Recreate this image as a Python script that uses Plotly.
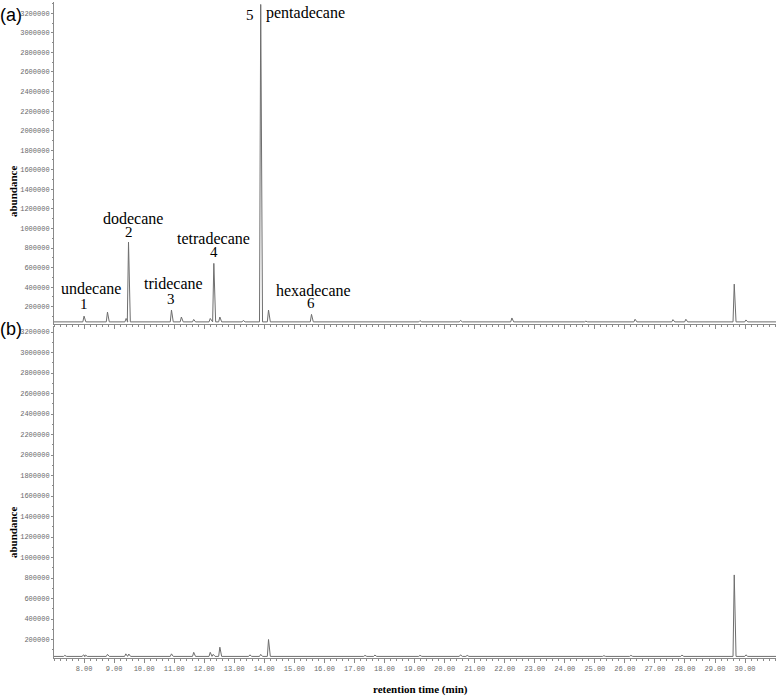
import plotly.graph_objects as go

# ---------------- data ----------------
# panel (a): peak retention times (min) and abundances
a_times = [7.40, 8.00, 8.78, 9.40, 9.48, 10.91, 11.24, 11.65, 12.20, 12.32, 12.52, 13.30,
           13.88, 14.14, 15.57, 16.30, 17.50, 19.18, 20.53, 21.10, 22.24, 24.70, 26.34,
           27.60, 28.03, 29.64, 30.03]
a_values = [52000, 104000, 145000, 80000, 860000, 166000, 95000, 70000, 80000, 643000, 95000, 60000,
            3290000, 166000, 122000, 52000, 50000, 58000, 60000, 52000, 85000, 52000, 72000,
            68000, 72000, 431000, 65000]
a_base = 45000

# panel (b)
b_times = [7.36, 7.98, 8.05, 8.78, 9.39, 9.49, 10.91, 11.65, 12.20, 12.30, 12.52, 13.52,
           13.88, 14.14, 15.60, 17.35, 17.68, 19.18, 20.53, 20.75, 25.30, 26.20, 27.90,
           29.64, 30.03]
b_values = [45000, 50000, 48000, 55000, 60000, 58000, 60000, 75000, 75000, 55000, 125000, 50000,
            55000, 200000, 42000, 45000, 48000, 45000, 50000, 45000, 42000, 45000, 48000,
            830000, 50000]
b_base = 35000

# peak labels (panel a)
peak_names = ["undecane", "dodecane", "tridecane", "tetradecane", "pentadecane", "hexadecane"]
peak_numbers = ["1", "2", "3", "4", "5", "6"]

x_tick_vals = list(range(8, 31))
x_tick_text = [f"{v}.00" for v in x_tick_vals]
y_tick_vals = list(range(200000, 3200001, 200000))
y_tick_text = [str(v) for v in y_tick_vals]

X_MIN, X_MAX = 7.0, 31.03


def trace_xy(times, values, base):
    xs, ys = [X_MIN], [base]
    for t, v in sorted(zip(times, values)):
        xs += [t - 0.04, t, t + 0.06]
        ys += [base, v, base]
    xs.append(X_MAX)
    ys.append(base)
    return xs, ys


fig = go.Figure()
ax, ay = trace_xy(a_times, a_values, a_base)
bx, by = trace_xy(b_times, b_values, b_base)
line_style = dict(color="#6e6e6e", width=1)
fig.add_trace(go.Scatter(x=ax, y=ay, mode="lines", line=line_style, xaxis="x", yaxis="y",
                         hoverinfo="skip", showlegend=False))
fig.add_trace(go.Scatter(x=bx, y=by, mode="lines", line=line_style, xaxis="x2", yaxis="y2",
                         hoverinfo="skip", showlegend=False))

tick_font = dict(family="Liberation Mono", size=7, color="#6a6a6a")
axis_common = dict(showgrid=False, zeroline=False, showline=True, linecolor="#8a8a8a",
                   linewidth=1, ticks="outside", tickcolor="#8a8a8a", automargin=False)

xaxis_common = dict(axis_common, range=[X_MIN, X_MAX], tickvals=x_tick_vals, ticktext=x_tick_text,
                    ticklen=4, tickfont=tick_font,
                    minor=dict(dtick=0.2, tick0=7, ticklen=2, tickcolor="#8a8a8a", ticks="outside"))
yaxis_common = dict(axis_common, tickvals=y_tick_vals, ticktext=y_tick_text, ticklen=2,
                    tickfont=tick_font,
                    minor=dict(dtick=100000, tick0=0, ticklen=1, tickcolor="#8a8a8a", ticks="outside"))

W, H = 778, 697
ML, MR, MT, MB = 54, 2, 2, 39
pw, ph = W - ML - MR, H - MT - MB


def px_to_paper(px, py):
    return (px - ML) / pw, (H - MB - py) / ph


serif = "Liberation Serif"
ann = []
name_pos = [(8.22, 387500), (9.63, 1103000), (10.98, 438700), (12.32, 899000), (15.37, 3199000), (15.64, 370000)]
num_pos = [(8.00, 227000), (9.48, 966000), (10.91, 278000), (12.32, 755600), (13.52, 3182000), (15.57, 234000)]
for i, name in enumerate(peak_names):
    nx, ny = name_pos[i]
    ann.append(dict(x=nx, y=ny, xref="x", yref="y", text=name, showarrow=False,
                    font=dict(family=serif, size=16, color="black"),
                    xanchor="center", yanchor="middle"))
    mx, my = num_pos[i]
    ann.append(dict(x=mx, y=my, xref="x", yref="y", text=peak_numbers[i], showarrow=False,
                    font=dict(family=serif, size=15, color="black"),
                    xanchor="center", yanchor="middle"))

for txt, px, py in [("(a)", 11, 15), ("(b)", 11, 329)]:
    xx, yy = px_to_paper(px, py)
    ann.append(dict(x=xx, y=yy, xref="paper", yref="paper", text=txt, showarrow=False,
                    font=dict(family="Liberation Sans", size=18, color="black"),
                    xanchor="center", yanchor="middle"))
for py in [192, 533]:
    xx, yy = px_to_paper(13, py)
    ann.append(dict(x=xx, y=yy, xref="paper", yref="paper", text="<b>abundance</b>", showarrow=False,
                    textangle=-90, font=dict(family=serif, size=11, color="black"),
                    xanchor="center", yanchor="middle"))
xx, yy = px_to_paper(420, 689)
ann.append(dict(x=xx, y=yy, xref="paper", yref="paper", text="<b>retention time (min)</b>",
                showarrow=False, font=dict(family=serif, size=11, color="black"),
                xanchor="center", yanchor="middle"))

fig.update_layout(
    width=W, height=H,
    margin=dict(l=ML, r=MR, t=MT, b=MB),
    paper_bgcolor="white", plot_bgcolor="white",
    xaxis=dict(xaxis_common, domain=[0, 1], anchor="y", showticklabels=False),
    yaxis=dict(yaxis_common, domain=[0.509, 1.0], anchor="x", range=[22500, 3315000]),
    xaxis2=dict(xaxis_common, domain=[0, 1], anchor="y2", showticklabels=True),
    yaxis2=dict(yaxis_common, domain=[0.0, 0.506], anchor="x2", range=[19500, 3258000]),
    annotations=ann,
)

fig.write_html("out.html", config={"displayModeBar": False},
               post_script="document.body.style.margin='0';document.body.style.overflow='hidden';")
